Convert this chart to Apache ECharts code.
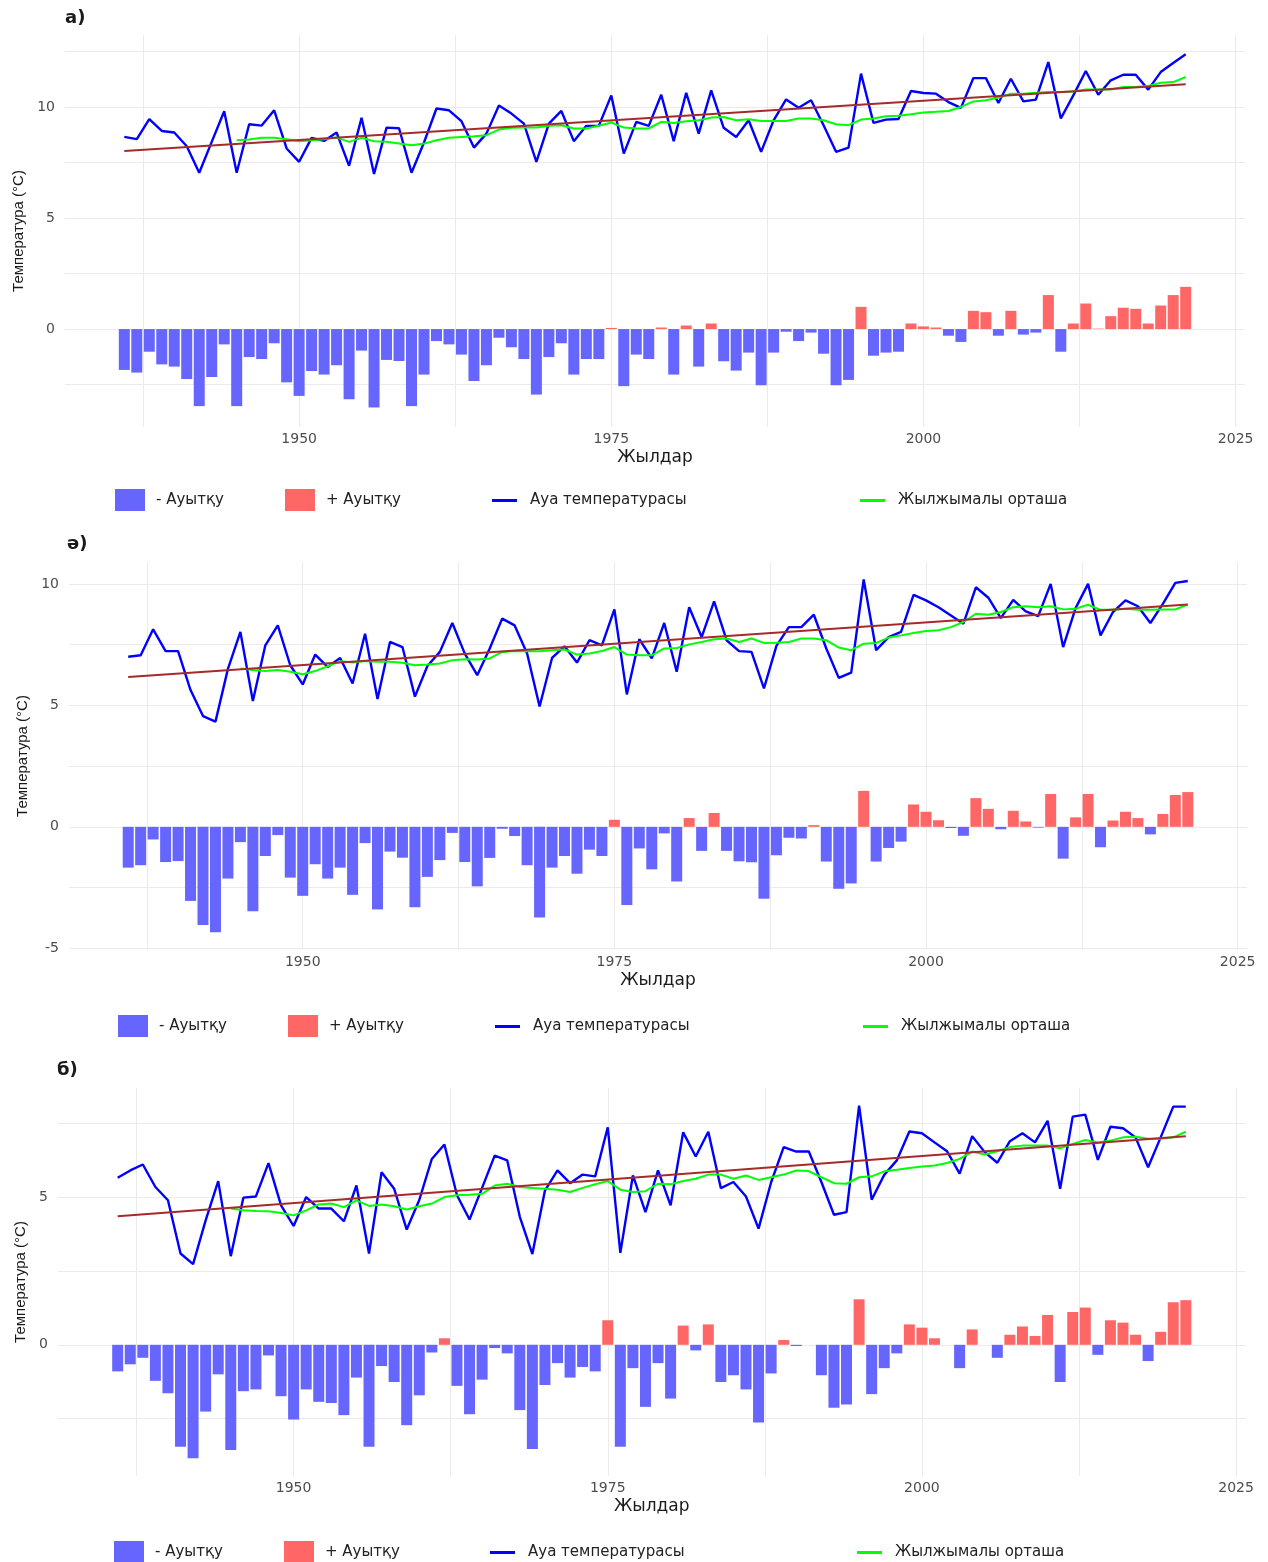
<!DOCTYPE html>
<html><head><meta charset="utf-8">
<script src="https://cdn.jsdelivr.net/npm/echarts@6/dist/echarts.min.js"></script>
<style>html,body{margin:0;padding:0;background:#fff}#c{width:1268px;height:1562px}</style>
</head><body><div id="c"></div>
<script>
// ---------- DATA ----------
const years = Array.from({length: 86}, (_, i) => 1936 + i); // 1936..2021
const maStartYear = 1945;
const trendYears = [1936, 2021];

// Panel а)
const tempA = [8.65,8.55,9.45,8.92,8.85,8.23,7.04,8.43,9.81,7.04,
  9.22,9.16,9.85,8.13,7.53,8.61,8.47,8.85,7.35,9.51,
  6.98,9.07,9.04,7.04,8.40,9.93,9.85,9.36,8.17,8.80,
  10.07,9.70,9.25,7.53,9.25,9.82,8.46,9.15,9.15,10.52,
  7.90,9.33,9.15,10.55,8.46,10.64,8.80,10.75,9.06,8.65,
  9.40,7.98,9.40,10.34,9.96,10.30,9.18,7.98,8.17,11.50,
  9.28,9.43,9.46,10.72,10.63,10.60,10.22,9.96,11.30,11.30,
  10.18,11.27,10.25,10.33,12.02,9.48,10.52,11.62,10.55,11.20,
  11.45,11.45,10.78,11.57,11.98,12.37];
const anomA = [-1.84,-1.96,-1.02,-1.59,-1.69,-2.25,-3.47,-2.16,-0.69,-3.47,
  -1.26,-1.35,-0.64,-2.40,-3.01,-1.89,-2.05,-1.63,-3.16,-0.97,
  -3.53,-1.39,-1.44,-3.47,-2.05,-0.54,-0.69,-1.15,-2.34,-1.63,
  -0.39,-0.82,-1.35,-2.95,-1.26,-0.64,-2.05,-1.35,-1.35,0.05,
  -2.57,-1.15,-1.35,0.07,-2.05,0.16,-1.69,0.25,-1.45,-1.87,
  -1.06,-2.53,-1.06,-0.12,-0.54,-0.16,-1.11,-2.53,-2.29,1.00,
  -1.20,-1.06,-1.02,0.25,0.12,0.07,-0.30,-0.58,0.82,0.76,
  -0.30,0.82,-0.25,-0.16,1.53,-1.02,0.25,1.15,0.02,0.58,
  0.96,0.91,0.25,1.06,1.53,1.90];
const maA = [8.50,8.53,8.61,8.61,8.55,8.46,8.50,8.55,8.62,8.43,
  8.61,8.46,8.43,8.35,8.28,8.35,8.50,8.61,8.65,8.68,
  8.73,8.98,9.06,9.07,9.07,9.15,9.18,9.03,9.03,9.15,
  9.30,9.07,9.03,9.03,9.33,9.28,9.36,9.40,9.52,9.55,
  9.40,9.45,9.37,9.37,9.37,9.48,9.48,9.40,9.22,9.18,
  9.43,9.48,9.58,9.60,9.67,9.75,9.78,9.82,10.00,10.25,
  10.30,10.42,10.60,10.60,10.64,10.67,10.67,10.70,10.79,10.79,
  10.79,10.90,10.90,10.94,11.09,11.12,11.35];
const trendA = [8.02, 11.02];

// Panel ә)
const tempB = [7.00,7.06,8.13,7.23,7.23,5.63,4.56,4.33,6.50,8.02,
  5.18,7.47,8.29,6.65,5.86,7.09,6.58,6.95,5.90,7.95,
  5.26,7.61,7.40,5.36,6.62,7.20,8.39,7.13,6.24,7.34,
  8.57,8.29,7.13,4.95,6.95,7.43,6.76,7.68,7.47,8.95,
  5.45,7.72,6.93,8.39,6.38,9.04,7.81,9.28,7.68,7.23,
  7.20,5.70,7.45,8.22,8.22,8.73,7.34,6.13,6.35,10.18,
  7.27,7.81,8.02,9.55,9.32,9.04,8.70,8.36,9.86,9.43,
  8.59,9.34,8.87,8.67,10.00,7.40,9.00,10.00,7.88,8.84,
  9.32,9.08,8.39,9.18,10.04,10.12];
const anomB = [-1.68,-1.58,-0.52,-1.45,-1.41,-3.05,-4.04,-4.34,-2.13,-0.63,
  -3.48,-1.20,-0.34,-2.09,-2.84,-1.54,-2.13,-1.68,-2.80,-0.67,
  -3.40,-1.02,-1.27,-3.31,-2.06,-1.37,-0.25,-1.45,-2.45,-1.28,
  -0.08,-0.38,-1.58,-3.73,-1.68,-1.20,-1.93,-0.94,-1.20,0.29,
  -3.22,-0.89,-1.75,-0.27,-2.25,0.36,-0.99,0.57,-0.99,-1.42,
  -1.46,-2.96,-1.17,-0.45,-0.48,0.07,-1.43,-2.55,-2.33,1.48,
  -1.43,-0.87,-0.61,0.92,0.62,0.27,-0.05,-0.37,1.18,0.74,
  -0.10,0.66,0.22,-0.03,1.35,-1.31,0.39,1.35,-0.84,0.26,
  0.62,0.36,-0.31,0.53,1.31,1.43];
const maB = [6.52,6.45,6.41,6.45,6.38,6.28,6.41,6.61,6.82,6.76,
  6.82,6.79,6.79,6.75,6.65,6.68,6.72,6.86,6.90,6.89,
  6.93,7.20,7.24,7.23,7.23,7.27,7.30,7.09,7.13,7.24,
  7.40,7.09,7.06,7.06,7.34,7.36,7.51,7.61,7.72,7.75,
  7.61,7.75,7.57,7.58,7.61,7.75,7.75,7.68,7.38,7.27,
  7.54,7.57,7.79,7.88,7.98,8.06,8.09,8.22,8.43,8.77,
  8.73,8.84,9.04,9.08,9.04,9.08,8.95,8.98,9.14,8.93,
  8.93,8.98,8.93,8.93,8.95,8.95,9.15];
const trendB = [6.17, 9.15];

// Panel б)
const tempC = [5.65,5.90,6.10,5.34,4.89,3.09,2.73,4.21,5.54,3.00,
  4.98,5.02,6.15,4.72,4.02,5.00,4.61,4.61,4.18,5.39,
  3.09,5.84,5.28,3.90,4.90,6.29,6.78,5.06,4.24,5.31,
  6.40,6.24,4.33,3.07,5.22,5.90,5.47,5.76,5.70,7.36,
  3.11,5.73,4.49,5.90,4.72,7.19,6.37,7.21,5.30,5.51,
  5.02,3.93,5.50,6.69,6.54,6.54,5.51,4.40,4.49,8.09,
  4.91,5.75,6.24,7.22,7.16,6.85,6.55,5.79,7.06,6.52,
  6.16,6.89,7.16,6.85,7.58,5.28,7.72,7.79,6.26,7.38,
  7.33,7.02,6.01,7.02,8.06,8.06];
const anomC = [-0.90,-0.66,-0.44,-1.22,-1.64,-3.45,-3.84,-2.26,-1.00,-3.56,
  -1.57,-1.51,-0.36,-1.74,-2.53,-1.51,-1.93,-1.97,-2.38,-1.11,
  -3.45,-0.72,-1.26,-2.72,-1.71,-0.26,0.22,-1.39,-2.35,-1.18,
  -0.11,-0.29,-2.21,-3.53,-1.36,-0.62,-1.11,-0.75,-0.90,0.83,
  -3.45,-0.79,-2.10,-0.62,-1.82,0.65,-0.19,0.69,-1.26,-1.03,
  -1.51,-2.63,-0.97,0.16,-0.04,0.00,-1.03,-2.13,-2.02,1.54,
  -1.67,-0.79,-0.29,0.69,0.58,0.22,0.00,-0.79,0.52,0.00,
  -0.44,0.34,0.62,0.30,1.01,-1.26,1.11,1.26,-0.34,0.83,
  0.75,0.34,-0.55,0.44,1.44,1.51];
const maC = [4.61,4.55,4.53,4.52,4.46,4.38,4.55,4.75,4.78,4.66,
  4.89,4.70,4.75,4.69,4.58,4.69,4.78,5.00,5.06,5.08,
  5.11,5.39,5.45,5.34,5.31,5.28,5.25,5.17,5.31,5.43,
  5.54,5.25,5.17,5.20,5.45,5.43,5.54,5.62,5.76,5.76,
  5.62,5.73,5.58,5.67,5.76,5.90,5.88,5.67,5.47,5.45,
  5.67,5.70,5.87,5.92,5.98,6.03,6.07,6.15,6.29,6.54,
  6.44,6.55,6.69,6.74,6.74,6.74,6.65,6.80,6.93,6.85,
  6.91,7.02,7.04,6.97,6.97,7.02,7.21];
const trendC = [4.35, 7.06];

// Tick values / labels
const xTicks = [1937.5, 1950, 1962.5, 1975, 1987.5, 2000, 2012.5, 2025];
const xLabels = [1950, 1975, 2000, 2025];
const yTicksA = [-2.5, 0, 2.5, 5, 7.5, 10, 12.5];
const yLabelsA = [0, 5, 10];
const yTicksB = [-5, -2.5, 0, 2.5, 5, 7.5, 10];
const yLabelsB = [-5, 0, 5, 10];
const yTicksC = [-2.5, 0, 2.5, 5, 7.5];
const yLabelsC = [0, 5];

const panelLabels = ['а)', 'ә)', 'б)'];
const nameNeg = '- Ауытқу';
const namePos = '+ Ауытқу';
const nameTemp = 'Ауа температурасы';
const nameMA = 'Жылжымалы орташа';
const xTitle = 'Жылдар';
const yTitle = 'Температура (°C)';

// ---------- LAYOUT ----------
const panels = [
  {temp: tempA, anom: anomA, ma: maA, trend: trendA, yMin: -4.41, yMax: 13.24, yTicks: yTicksA, yLabels: yLabelsA,
   grid: {left: 65, top: 35, width: 1180, height: 392}, title: {left: 65, top: 9},
   legendTop: 489, legendLefts: [115, 285, 492, 860], yNameGap: 34},
  {temp: tempB, anom: anomB, ma: maB, trend: trendB, yMin: -5.07, yMax: 10.9, yTicks: yTicksB, yLabels: yLabelsB,
   grid: {left: 69, top: 562, width: 1178, height: 388}, title: {left: 67, top: 535},
   legendTop: 1015, legendLefts: [118, 288, 495, 863], yNameGap: 36},
  {temp: tempC, anom: anomC, ma: maC, trend: trendC, yMin: -4.44, yMax: 8.69, yTicks: yTicksC, yLabels: yLabelsC,
   grid: {left: 58, top: 1088, width: 1187.5, height: 388}, title: {left: 57, top: 1061},
   legendTop: 1541, legendLefts: [114, 284, 490, 857], yNameGap: 26}
];

const FONT = 'DejaVu Sans';
const gridColor = '#ebebeb';
const option = {
  animation: false,
  backgroundColor: '#fff',
  title: [], grid: [], xAxis: [], yAxis: [], legend: [], series: []
};

panels.forEach((p, i) => {
  option.title.push({text: panelLabels[i], left: p.title.left, top: p.title.top, padding: 0,
    textStyle: {fontFamily: FONT, fontWeight: 'bold', fontSize: 18, color: '#1a1a1a'}});
  option.grid.push(Object.assign({containLabel: false}, p.grid));
  option.xAxis.push({
    gridIndex: i, type: 'value', min: 1931.25, max: 2025.75,
    axisLine: {show: false, onZero: false}, axisTick: {show: false, customValues: xTicks},
    splitLine: {show: true, lineStyle: {color: gridColor, width: 1}},
    axisLabel: {customValues: xLabels, formatter: v => String(v), fontFamily: FONT, fontSize: 14, color: '#4d4d4d', margin: 5},
    name: xTitle, nameLocation: 'middle', nameGap: 22,
    nameTextStyle: {fontFamily: FONT, fontSize: 17, color: '#1a1a1a'}
  });
  option.yAxis.push({
    gridIndex: i, type: 'value', min: p.yMin, max: p.yMax,
    axisLine: {show: false}, axisTick: {show: false, customValues: p.yTicks},
    splitLine: {show: true, lineStyle: {color: gridColor, width: 1}},
    axisLabel: {customValues: p.yLabels, formatter: v => String(v), fontFamily: FONT, fontSize: 14, color: '#4d4d4d', margin: 10},
    name: yTitle, nameLocation: 'middle', nameGap: p.yNameGap,
    nameTextStyle: {fontFamily: 'Liberation Sans', fontSize: 15, color: '#1a1a1a'}
  });
  const neg = [], pos = [];
  p.anom.forEach((v, k) => { if (v < 0) neg.push([years[k], v]); else pos.push([years[k], v]); });
  option.series.push({name: nameNeg, type: 'bar', xAxisIndex: i, yAxisIndex: i, data: neg,
    barWidth: 11, barGap: '-100%', itemStyle: {color: '#6666ff'}});
  option.series.push({name: namePos, type: 'bar', xAxisIndex: i, yAxisIndex: i, data: pos,
    barWidth: 11, barGap: '-100%', itemStyle: {color: '#ff6666'}});
  option.series.push({name: nameTemp, type: 'line', xAxisIndex: i, yAxisIndex: i,
    data: p.temp.map((v, k) => [years[k], v]), symbol: 'none',
    lineStyle: {color: '#0000ff', width: 2.4}, itemStyle: {color: '#0000ff'}});
  option.series.push({name: nameMA, type: 'line', xAxisIndex: i, yAxisIndex: i,
    data: p.ma.map((v, k) => [maStartYear + k, v]), symbol: 'none',
    lineStyle: {color: '#00ff00', width: 2}, itemStyle: {color: '#00ff00'}});
  option.series.push({name: 'trend', type: 'line', xAxisIndex: i, yAxisIndex: i,
    data: p.trend.map((v, k) => [trendYears[k], v]), symbol: 'none',
    lineStyle: {color: '#a52a2a', width: 2}, itemStyle: {color: '#a52a2a'}});
  const names = [nameNeg, namePos, nameTemp, nameMA];
  names.forEach((nm, j) => {
    const isBar = j < 2;
    option.legend.push({
      left: p.legendLefts[j], top: isBar ? p.legendTop : p.legendTop + 4, padding: 0, orient: 'horizontal',
      itemWidth: isBar ? 30 : 25, itemHeight: isBar ? 22 : 3, selectedMode: false,
      data: [{name: nm, icon: 'rect'}],
      textStyle: {fontFamily: FONT, fontSize: 15, color: '#222', padding: [0, 0, 0, isBar ? 6 : 8]}
    });
  });
});

const chart = echarts.init(document.getElementById('c'), null, {renderer: 'canvas'});
chart.setOption(option);
</script>
</body></html>
